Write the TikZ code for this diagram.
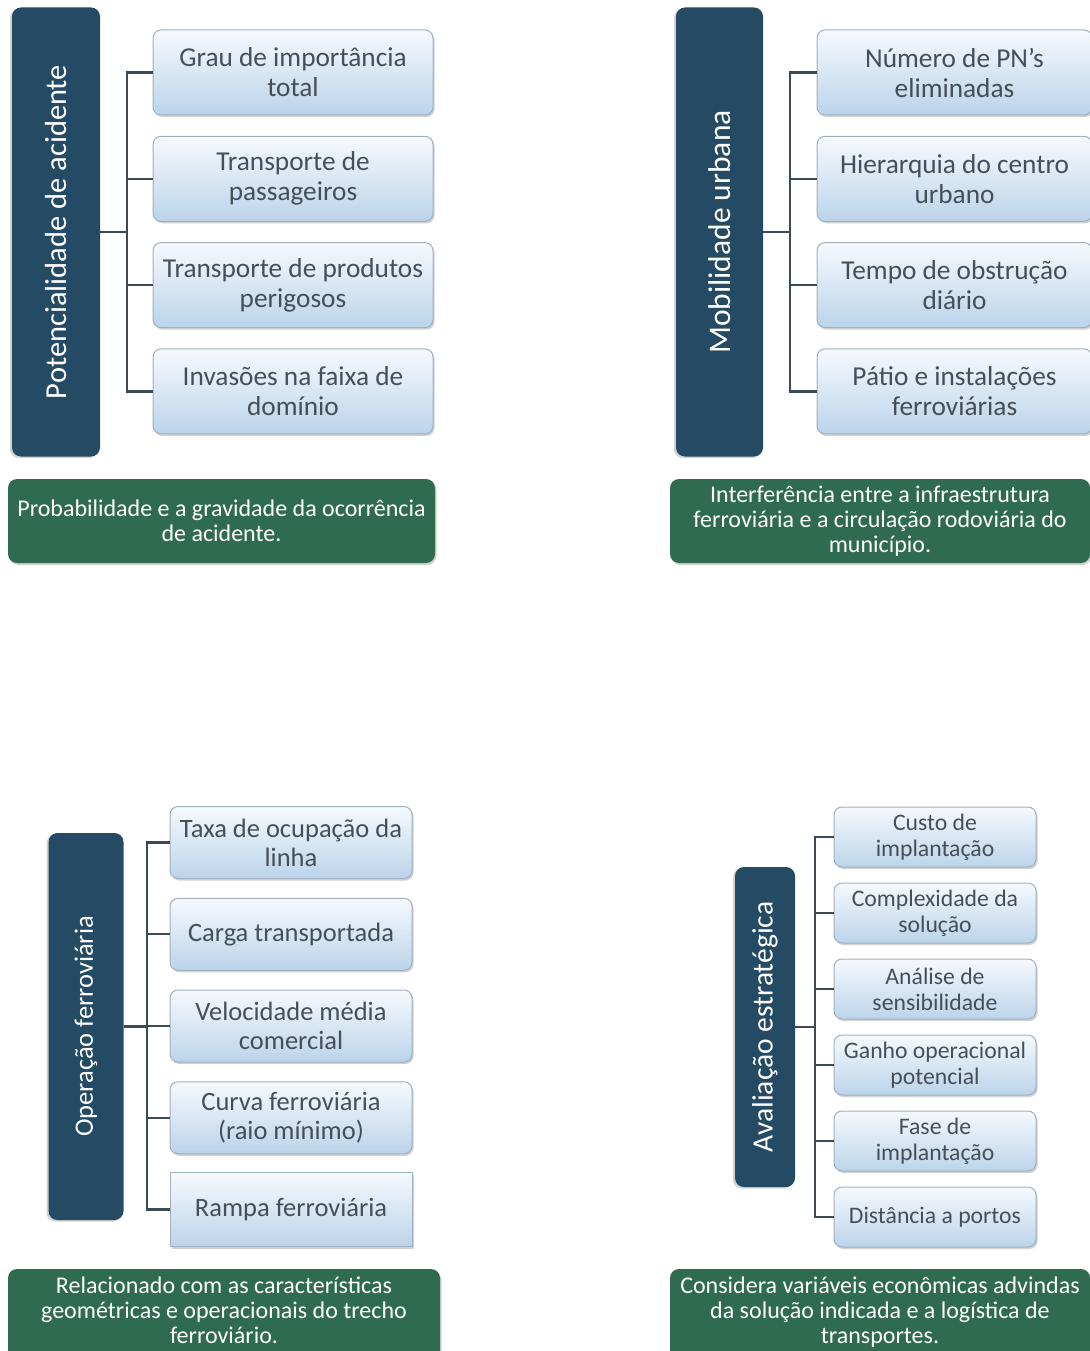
\documentclass[tikz,border=0pt]{standalone}
\usepackage{fontspec}
\setmainfont{Carlito}
\usetikzlibrary{positioning,shadows}
\definecolor{headnavy}{HTML}{254A63}
\definecolor{notegreen}{HTML}{2F6B50}
\definecolor{itemtop}{HTML}{F6F9FD}
\definecolor{itembottom}{HTML}{BBD4EA}
\definecolor{itemline}{HTML}{9EB0C2}
\definecolor{itemtext}{HTML}{454F59}
\definecolor{linkgray}{HTML}{3A4A56}
\tikzset{
  headbox/.style={
    rounded corners=9pt,
    fill=headnavy,
    text=white,
    rotate=90,
    drop shadow={shadow xshift=-2pt, shadow yshift=-1.5pt, opacity=0.3, fill=black!60}
  },
  itembox/.style={
    rounded corners=8pt,
    draw=itemline,
    line width=1pt,
    top color=itemtop,
    bottom color=itembottom,
    text=itemtext,
    align=center,
    inner sep=2pt,
    drop shadow={shadow xshift=1.5pt, shadow yshift=-2pt, opacity=0.3, fill=black!60}
  },
  notebox/.style={
    rounded corners=9pt,
    fill=notegreen,
    text=white,
    align=center,
    inner sep=2pt,
    font=\fontsize{24pt}{25pt}\selectfont,
    drop shadow={shadow xshift=1.5pt, shadow yshift=-2pt, opacity=0.3, fill=black!60}
  },
  link/.style={
    draw=linkgray,
    line width=2.3pt
  }
}
\begin{document}
\begin{tikzpicture}[x=1pt, y=-1pt]
\useasboundingbox (0,0) rectangle (1089,1351);

% Potencialidade de acidente (rotated, so .south is the right side)
\node[headbox, minimum width=449pt, minimum height=88pt, font=\fontsize{30.5pt}{34pt}\selectfont] (pot) at (56,232) {Potencialidade de acidente};
\foreach \lbl [count=\i] in {{Grau de importância\\total}, {Transporte de\\passageiros}, {Transporte de produtos\\perigosos}, {Invasões na faixa de\\domínio}}
  \node[itembox, minimum width=280pt, minimum height=85pt, font=\fontsize{27.3pt}{30pt}\selectfont] (pot\i) at (293,{72.5+106.3*(\i-1)}) {\lbl};
\coordinate (potbus) at (127,232);
\draw[link] (pot.south) -- (potbus);
\foreach \i in {1,...,4} \draw[link] (potbus) |- (pot\i.west);
\node[notebox, minimum width=427pt, minimum height=84pt] (potnote) at (221.5,521) {Probabilidade e a gravidade da ocorrência\\de acidente.};

% Mobilidade urbana
\node[headbox, minimum width=449pt, minimum height=87pt, font=\fontsize{31.5pt}{35pt}\selectfont] (mob) at (719.5,232) {Mobilidade urbana};
\foreach \lbl [count=\i] in {{Número de PN’s\\eliminadas}, {Hierarquia do centro\\urbano}, {Tempo de obstrução\\diário}, {Pátio e instalações\\ferroviárias}}
  \node[itembox, minimum width=275pt, minimum height=85pt, font=\fontsize{27.3pt}{30pt}\selectfont] (mob\i) at (954.5,{72.5+106.3*(\i-1)}) {\lbl};
\coordinate (mobbus) at (790,232);
\draw[link] (mob.south) -- (mobbus);
\foreach \i in {1,...,4} \draw[link] (mobbus) |- (mob\i.west);
\node[notebox, minimum width=420pt, minimum height=84pt] (mobnote) at (880,521) {Interferência entre a infraestrutura\\ferroviária e a circulação rodoviária do\\município.};

% Operação ferroviária
\node[headbox, minimum width=387pt, minimum height=75pt, font=\fontsize{26.5pt}{30pt}\selectfont] (ope) at (86,1026.5) {Operação ferroviária};
\foreach \lbl [count=\i] in {{Taxa de ocupação da\\linha}, {Carga transportada}, {Velocidade média\\comercial}, {Curva ferroviária\\(raio mínimo)}}
  \node[itembox, minimum width=242pt, minimum height=72pt, font=\fontsize{26.5pt}{29pt}\selectfont] (ope\i) at (291,{842.5+91.75*(\i-1)}) {\lbl};
\node[itembox, sharp corners, minimum width=242pt, minimum height=74pt, font=\fontsize{26.5pt}{29pt}\selectfont] (ope5) at (291,1209.5) {Rampa ferroviária};
\coordinate (opebus) at (147,1026.5);
\draw[link] (ope.south) -- (opebus);
\foreach \i in {1,...,5} \draw[link] (opebus) |- (ope\i.west);
\node[notebox, text depth=10pt, minimum width=432pt, minimum height=93pt] (openote) at (224,1315.5) {Relacionado com as características\\geométricas e operacionais do trecho\\ferroviário.};

% Avaliação estratégica
\node[headbox, minimum width=320pt, minimum height=60pt, font=\fontsize{29.5pt}{33pt}\selectfont] (ava) at (765,1027) {Avaliação estratégica};
\foreach \lbl [count=\i] in {{Custo de\\implantação}, {Complexidade da\\solução}, {Análise de\\sensibilidade}, {Ganho operacional\\potencial}, {Fase de\\implantação}, {Distância a portos}}
  \node[itembox, minimum width=202pt, minimum height=60pt, font=\fontsize{23.7pt}{26pt}\selectfont] (ava\i) at (935,{837+76*(\i-1)}) {\lbl};
\coordinate (avabus) at (815,1027);
\draw[link] (ava.south) -- (avabus);
\foreach \i in {1,...,6} \draw[link] (avabus) |- (ava\i.west);
\node[notebox, text depth=10pt, minimum width=420pt, minimum height=93pt] (avanote) at (880,1315.5) {Considera variáveis econômicas advindas\\da solução indicada e a logística de\\transportes.};
\end{tikzpicture}
\end{document}
